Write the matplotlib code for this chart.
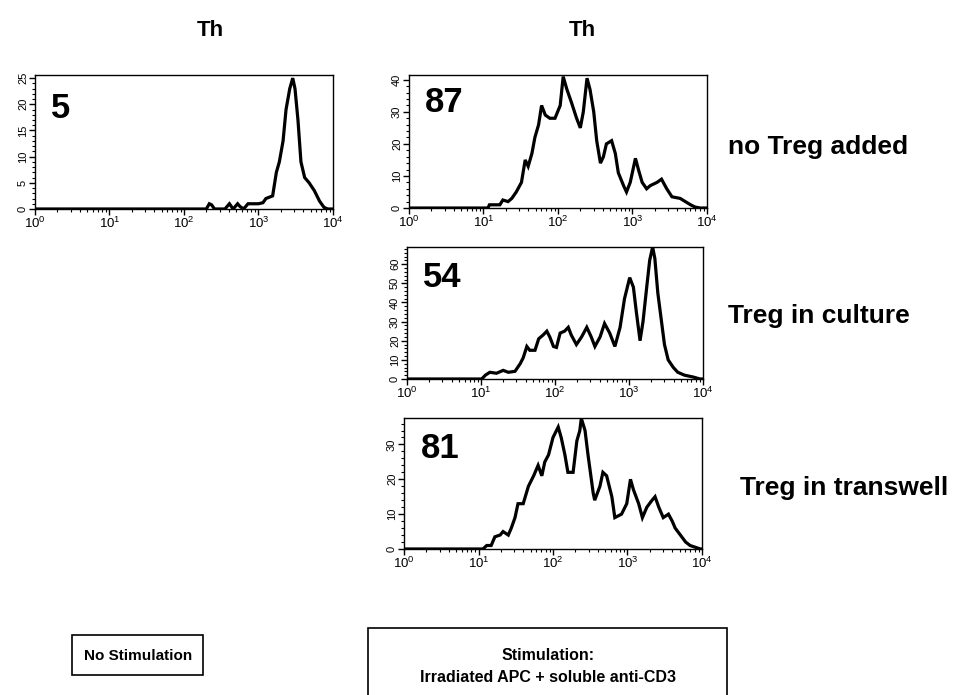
import matplotlib
matplotlib.use("Agg")
import matplotlib.pyplot as plt
import numpy as np
from matplotlib.patches import Rectangle
from matplotlib.ticker import MultipleLocator, LogLocator, NullFormatter

plt.rcParams['font.family'] = ['Liberation Sans', 'DejaVu Sans']

# histogram: log10(fluorescence) and cell counts
nostim_log = [0.0, 2.30, 2.34, 2.37, 2.41, 2.55, 2.61, 2.66, 2.72, 2.75, 2.80, 2.86, 2.92, 3.00,
              3.06, 3.10, 3.19, 3.24, 3.28, 3.33, 3.37, 3.42, 3.46, 3.49, 3.53, 3.57, 3.62,
              3.68, 3.75, 3.82, 3.88, 3.93, 4.0]
nostim_cnt = [0, 0, 1, 0.8, 0, 0, 1, 0, 1, 0.5, 0, 1, 1, 1,
              1.2, 2, 2.5, 7, 9, 13, 19, 23, 25, 23, 17, 9, 6,
              5, 3.5, 1.5, 0.3, 0, 0]

notreg_log = [0.0, 1.06, 1.08, 1.22, 1.26, 1.33, 1.38, 1.44, 1.51, 1.56, 1.60, 1.65, 1.69, 1.74,
              1.78, 1.83, 1.89, 1.96, 2.03, 2.07, 2.12, 2.18, 2.25, 2.30, 2.34, 2.39, 2.43,
              2.48, 2.52, 2.57, 2.61, 2.65, 2.72, 2.77, 2.81, 2.88, 2.92, 2.97, 3.04, 3.08,
              3.13, 3.19, 3.24, 3.33, 3.39, 3.46, 3.53, 3.64, 3.71, 3.78, 3.84, 3.91, 4.0]
notreg_cnt = [0, 0, 1, 1, 2.5, 2, 3, 5, 8, 15, 13, 17, 22, 26,
              32, 29, 28, 28, 32, 41, 37, 33, 28, 25, 30, 40.5, 37,
              30, 21, 14, 16, 20, 21, 17, 11, 7, 5, 8, 15.5, 12,
              8, 6, 7, 8, 9, 6, 3.5, 3, 2, 1, 0.3, 0, 0]

culture_log = [0.0, 1.01, 1.06, 1.12, 1.21, 1.30, 1.37, 1.46, 1.53, 1.57, 1.62, 1.66, 1.73, 1.78,
               1.84, 1.89, 1.93, 1.98, 2.02, 2.07, 2.13, 2.18, 2.22, 2.29, 2.36, 2.43, 2.49,
               2.54, 2.61, 2.67, 2.74, 2.81, 2.88, 2.94, 3.01, 3.06, 3.10, 3.15, 3.19, 3.24,
               3.28, 3.32, 3.35, 3.39, 3.44, 3.48, 3.53, 3.60, 3.66, 3.75, 3.87, 3.96, 4.0]
culture_cnt = [0, 0, 2, 3.5, 3, 4.5, 3.5, 4, 8, 11, 17, 15, 15, 21,
               23, 25, 22, 17, 16.5, 24, 25, 27, 23, 18, 22, 27, 22,
               17, 22, 29, 24, 17, 27, 42, 53, 48, 35, 20, 30, 48,
               62, 69, 63, 45, 30, 18, 10, 6, 3.5, 2, 1, 0, 0]

transwell_log = [0.0, 1.06, 1.11, 1.17, 1.22, 1.29, 1.33, 1.40, 1.44, 1.49, 1.53, 1.60, 1.67, 1.74,
                 1.80, 1.85, 1.89, 1.94, 2.00, 2.07, 2.11, 2.16, 2.20, 2.27, 2.32, 2.36, 2.38,
                 2.43, 2.47, 2.54, 2.56, 2.63, 2.67, 2.72, 2.79, 2.83, 2.92, 2.99, 3.04, 3.08,
                 3.15, 3.20, 3.26, 3.33, 3.37, 3.42, 3.48, 3.55, 3.60, 3.64, 3.71, 3.78, 3.84,
                 3.91, 3.98, 4.0]
transwell_cnt = [0, 0, 1, 1, 3.5, 4, 5, 4, 6, 9, 13, 13, 18, 21,
                 24, 21, 25, 27, 32, 35, 32, 27, 22, 22, 31, 34, 37.5,
                 34, 27, 16, 14, 18, 22, 21, 15, 9, 10, 13, 20, 17,
                 13, 9, 12, 14, 15, 12, 9, 10, 8, 6, 4, 2, 1,
                 0.5, 0, 0]

panels = [
    # axes rect (figure fraction), data, ymax, major/minor y step, percentage label and its height
    ([0.0366, 0.6993, 0.3117, 0.1928], nostim_log, nostim_cnt, 25.6, 5, 1, "5", 0.75),
    ([0.4278, 0.7007, 0.3117, 0.1914], notreg_log, notreg_cnt, 41.5, 10, 2, "87", 0.79),
    ([0.4257, 0.4547, 0.3096, 0.1899], culture_log, culture_cnt, 69, 10, 2, "54", 0.77),
    ([0.4226, 0.2101, 0.3117, 0.1885], transwell_log, transwell_cnt, 37.6, 10, 2, "81", 0.77),
]

fig = plt.figure(figsize=(9.56, 6.95), dpi=100)

for rect, xs, ys, ymax, major, minor, num, ny in panels:
    ax = fig.add_axes(rect)
    ax.plot(10 ** np.array(xs), ys, color='black', lw=2.3, solid_joinstyle='miter')
    ax.set_xscale('log')
    ax.set_xlim(1, 1e4)
    ax.set_ylim(0, ymax)
    ax.xaxis.set_major_locator(LogLocator(base=10, numticks=10))
    ax.xaxis.set_minor_locator(LogLocator(base=10, subs=np.arange(2, 10), numticks=20))
    ax.xaxis.set_minor_formatter(NullFormatter())
    ax.yaxis.set_major_locator(MultipleLocator(major))
    ax.yaxis.set_minor_locator(MultipleLocator(minor))
    ax.tick_params(which='major', direction='out', length=4, width=1, pad=1)
    ax.tick_params(which='minor', direction='out', length=2, width=0.8)
    ax.tick_params(axis='x', labelsize=9.5)
    ax.tick_params(axis='y', labelrotation=90, labelsize=8)
    for lab in ax.get_yticklabels():
        lab.set_va('center')
    for sp in ax.spines.values():
        sp.set_linewidth(1)
    ax.text(0.055, ny, num, transform=ax.transAxes, fontsize=25, fontweight='bold',
            ha='left', va='center')

fig.text(210 / 956, 1 - 30 / 695, "Th", fontsize=16, fontweight='bold', ha='center', va='center')
fig.text(582 / 956, 1 - 30 / 695, "Th", fontsize=16, fontweight='bold', ha='center', va='center')

fig.text(728 / 956, 1 - 147 / 695, "no Treg added", fontsize=19, fontweight='bold', va='center')
fig.text(728 / 956, 1 - 316 / 695, "Treg in culture", fontsize=19, fontweight='bold', va='center')
fig.text(740 / 956, 1 - 488 / 695, "Treg in transwell", fontsize=19, fontweight='bold', va='center')

# condition boxes at the bottom
fig.add_artist(Rectangle((72 / 956, 1 - 675 / 695), 131 / 956, 40 / 695,
                         transform=fig.transFigure, fill=False, lw=1.2, ec='black'))
fig.text(138 / 956, 1 - 656 / 695, "No Stimulation", fontsize=11, fontweight='bold',
         ha='center', va='center')
fig.add_artist(Rectangle((368 / 956, 1 - 705 / 695), 359 / 956, 77 / 695,
                         transform=fig.transFigure, fill=False, lw=1.2, ec='black'))
fig.text(548 / 956, 1 - 655 / 695, "Stimulation:", fontsize=11.5, fontweight='bold',
         ha='center', va='center')
fig.text(548 / 956, 1 - 678 / 695, "Irradiated APC + soluble anti-CD3", fontsize=11.5,
         fontweight='bold', ha='center', va='center')

fig.savefig("out.png", dpi=100)
